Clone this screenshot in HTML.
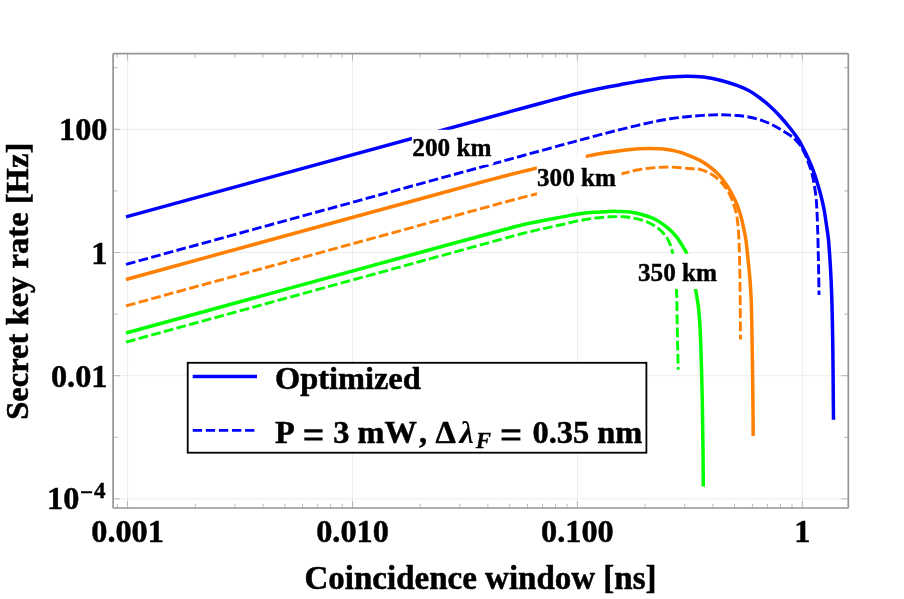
<!DOCTYPE html>
<html><head><meta charset="utf-8"><title>Secret key rate vs coincidence window</title>
<style>html,body{margin:0;padding:0;background:#fff}body{width:904px;height:599px;overflow:hidden}</style></head>
<body>
<svg width="904" height="599" viewBox="0 0 904 599" style="display:block;will-change:transform;opacity:0.999;font-family:'Liberation Serif',serif;font-weight:bold">
<rect width="904" height="599" fill="#fff"/>
<path d="M127.60 53.6 V508.0 M352.50 53.6 V508.0 M577.40 53.6 V508.0 M802.30 53.6 V508.0 M113.1 129.30 H848.3 M113.1 252.50 H848.3 M113.1 375.70 H848.3 M113.1 498.90 H848.3" stroke="#000" stroke-opacity="0.075" stroke-width="1" fill="none"/>
<g fill="none" stroke-linecap="butt" stroke-linejoin="round">
<path d="M126.00 342.04 L420.00 261.51 C425.00 260.14 436.67 256.95 450.00 253.29 C463.33 249.64 487.50 243.00 500.00 239.60 C512.50 236.20 517.50 234.78 525.00 232.90 C532.50 231.02 539.17 229.62 545.00 228.30 C550.83 226.98 554.72 226.18 560.00 225.00 C565.28 223.82 571.13 222.32 576.70 221.20 C582.27 220.08 587.83 219.03 593.40 218.30 C598.97 217.57 605.08 217.05 610.10 216.80 C615.12 216.55 619.32 216.53 623.50 216.80 C627.68 217.07 631.30 217.57 635.20 218.40 C639.10 219.23 643.28 220.30 646.90 221.80 C650.52 223.30 653.85 225.15 656.90 227.40 C659.95 229.65 662.98 232.45 665.20 235.30 C667.42 238.15 668.95 241.47 670.20 244.50 C671.45 247.53 671.93 249.58 672.70 253.50 C673.47 257.42 674.17 262.04 674.80 268.00 C675.43 273.96 676.05 277.33 676.50 289.25 C676.95 301.17 677.22 326.09 677.50 339.50 C677.78 352.91 678.08 364.67 678.20 369.70" stroke="#00ff00" stroke-width="2.9" stroke-dasharray="9.700 3.397"/>
<path d="M126.00 333.04 L420.00 252.51 C425.00 251.14 436.67 247.92 450.00 244.29 C463.33 240.67 487.50 234.08 500.00 230.75 C512.50 227.42 517.50 226.06 525.00 224.30 C532.50 222.54 539.17 221.35 545.00 220.20 C550.83 219.05 554.72 218.38 560.00 217.40 C565.28 216.42 571.13 215.15 576.70 214.30 C582.27 213.45 587.83 212.78 593.40 212.30 C598.97 211.82 605.92 211.55 610.10 211.40 C614.28 211.25 615.15 211.28 618.50 211.40 C621.85 211.52 626.03 211.50 630.20 212.10 C634.37 212.70 639.05 213.65 643.50 215.00 C647.95 216.35 652.72 217.93 656.90 220.20 C661.08 222.47 665.27 225.75 668.60 228.60 C671.93 231.45 674.40 234.10 676.90 237.30 C679.40 240.50 681.98 245.10 683.60 247.80 C685.22 250.50 685.37 250.13 686.60 253.50 C687.83 256.87 689.52 262.04 691.00 268.00 C692.48 273.96 694.21 282.25 695.50 289.25 C696.79 296.25 697.90 301.62 698.75 310.00 C699.60 318.38 700.02 325.00 700.60 339.50 C701.18 354.00 701.80 378.58 702.20 397.00 C702.60 415.42 702.82 435.10 703.00 450.00 C703.18 464.90 703.25 480.33 703.30 486.40" stroke="#00ff00" stroke-width="3.5"/>
<path d="M126.00 305.84 L470.00 211.62 C475.00 210.25 489.00 206.34 500.00 203.40 C511.00 200.46 526.00 196.60 536.00 194.00 C546.00 191.40 549.33 190.38 560.00 187.80 C570.67 185.22 589.57 180.88 600.00 178.50 C610.43 176.12 616.18 174.95 622.60 173.50 C629.02 172.05 633.07 170.78 638.50 169.80 C643.93 168.82 649.63 168.05 655.20 167.60 C660.77 167.15 666.33 166.95 671.90 167.10 C677.47 167.25 683.92 168.13 688.60 168.50 C693.28 168.87 696.43 168.47 700.00 169.30 C703.57 170.13 707.08 171.95 710.00 173.50 C712.92 175.05 715.17 176.60 717.50 178.60 C719.83 180.60 722.00 182.93 724.00 185.50 C726.00 188.07 727.92 190.92 729.50 194.00 C731.08 197.08 732.32 200.50 733.50 204.00 C734.68 207.50 735.82 211.00 736.60 215.00 C737.38 219.00 737.78 223.25 738.20 228.00 C738.62 232.75 738.87 237.83 739.10 243.50 C739.33 249.17 739.43 254.25 739.60 262.00 C739.77 269.75 739.95 277.08 740.10 290.00 C740.25 302.92 740.43 331.25 740.50 339.50" stroke="#ff7f00" stroke-width="2.9" stroke-dasharray="9.700 3.411"/>
<clipPath id="co"><path d="M0 0H536.9V599H0Z M585.7 0H904V599H585.7Z"/></clipPath>
<path d="M126.00 279.44 L450.00 190.69 C455.00 189.33 471.67 184.73 480.00 182.48 C488.33 180.23 493.33 178.93 500.00 177.20 C506.67 175.47 513.92 173.62 520.00 172.10 C526.08 170.58 529.33 169.85 536.50 168.10 C543.67 166.35 554.70 163.55 563.00 161.60 C571.30 159.65 579.30 157.87 586.30 156.40 C593.30 154.93 599.08 153.80 605.00 152.80 C610.92 151.80 616.22 151.07 621.80 150.40 C627.38 149.73 633.77 149.13 638.50 148.80 C643.23 148.47 646.03 148.37 650.20 148.40 C654.37 148.43 659.05 148.50 663.50 149.00 C667.95 149.50 672.72 150.35 676.90 151.40 C681.08 152.45 684.75 153.80 688.60 155.30 C692.45 156.80 696.43 158.45 700.00 160.40 C703.57 162.35 706.93 164.67 710.00 167.00 C713.07 169.33 715.88 171.78 718.40 174.40 C720.92 177.02 723.02 179.77 725.10 182.70 C727.18 185.63 729.10 188.78 730.90 192.00 C732.70 195.22 734.37 198.40 735.90 202.00 C737.43 205.60 738.85 209.47 740.10 213.60 C741.35 217.73 742.43 222.38 743.40 226.80 C744.37 231.22 745.12 234.60 745.90 240.10 C746.68 245.60 747.42 253.15 748.10 259.80 C748.78 266.45 749.48 273.30 750.00 280.00 C750.52 286.70 750.90 292.50 751.20 300.00 C751.50 307.50 751.60 315.00 751.80 325.00 C752.00 335.00 752.22 347.50 752.40 360.00 C752.58 372.50 752.77 387.33 752.90 400.00 C753.03 412.67 753.15 430.00 753.20 436.00" stroke="#ff7f00" stroke-width="3.5" clip-path="url(#co)"/>
<path d="M126.00 264.34 L530.00 153.68 C535.00 152.31 551.38 147.80 560.00 145.47 C568.62 143.13 574.20 141.66 581.70 139.65 C589.20 137.64 598.62 135.08 605.00 133.40 C611.38 131.72 614.72 130.90 620.00 129.60 C625.28 128.30 631.13 126.90 636.70 125.60 C642.27 124.30 647.83 122.93 653.40 121.80 C658.97 120.67 664.53 119.65 670.10 118.80 C675.67 117.95 681.23 117.27 686.80 116.70 C692.37 116.13 697.93 115.72 703.50 115.40 C709.07 115.08 714.63 114.78 720.20 114.80 C725.77 114.82 731.93 115.10 736.90 115.50 C741.87 115.90 746.15 116.48 750.00 117.20 C753.85 117.92 756.67 118.72 760.00 119.80 C763.33 120.88 766.67 122.15 770.00 123.70 C773.33 125.25 776.67 127.17 780.00 129.10 C783.33 131.03 787.48 133.58 790.00 135.30 C792.52 137.02 793.43 137.78 795.10 139.40 C796.77 141.02 798.43 142.73 800.00 145.00 C801.57 147.27 803.08 150.00 804.50 153.00 C805.92 156.00 807.23 159.47 808.50 163.00 C809.77 166.53 811.10 170.33 812.10 174.20 C813.10 178.07 813.83 182.20 814.50 186.20 C815.17 190.20 815.70 194.27 816.10 198.20 C816.50 202.13 816.65 204.92 816.90 209.80 C817.15 214.68 817.38 220.38 817.60 227.50 C817.83 234.62 818.06 244.17 818.25 252.50 C818.44 260.83 818.62 270.42 818.75 277.50 C818.88 284.58 818.96 292.08 819.00 295.00" stroke="#0000ff" stroke-width="2.9" stroke-dasharray="9.700 3.379"/>
<path d="M126.00 216.84 L510.00 111.66 C515.00 110.29 532.50 105.49 540.00 103.44 C547.50 101.40 548.75 101.05 555.00 99.40 C561.25 97.75 570.00 95.37 577.50 93.55 C585.00 91.73 592.92 89.97 600.00 88.50 C607.08 87.03 613.88 85.85 620.00 84.70 C626.12 83.55 631.13 82.57 636.70 81.60 C642.27 80.63 647.83 79.65 653.40 78.90 C658.97 78.15 664.53 77.56 670.10 77.10 C675.67 76.64 681.23 76.17 686.80 76.15 C692.37 76.13 697.93 76.33 703.50 77.00 C709.07 77.67 714.63 78.80 720.20 80.20 C725.77 81.60 731.93 83.57 736.90 85.40 C741.87 87.23 746.15 89.10 750.00 91.20 C753.85 93.30 756.67 95.50 760.00 98.00 C763.33 100.50 766.67 103.17 770.00 106.20 C773.33 109.23 776.67 112.57 780.00 116.20 C783.33 119.83 786.98 124.20 790.00 128.00 C793.02 131.80 795.92 135.65 798.10 139.00 C800.28 142.35 801.43 144.92 803.10 148.10 C804.77 151.28 806.43 154.43 808.10 158.10 C809.77 161.77 811.60 166.08 813.10 170.10 C814.60 174.12 815.77 177.85 817.10 182.20 C818.43 186.55 819.93 191.60 821.10 196.20 C822.27 200.80 823.13 204.50 824.10 209.80 C825.07 215.10 826.17 222.97 826.90 228.00 C827.63 233.03 827.98 234.67 828.50 240.00 C829.02 245.33 829.57 253.33 830.00 260.00 C830.43 266.67 830.77 272.50 831.10 280.00 C831.43 287.50 831.73 295.00 832.00 305.00 C832.27 315.00 832.53 330.00 832.70 340.00 C832.87 350.00 832.90 355.00 833.00 365.00 C833.10 375.00 833.22 390.87 833.30 400.00 C833.38 409.13 833.47 416.50 833.50 419.80" stroke="#0000ff" stroke-width="3.5"/>
</g>
<rect x="411.9" y="129.8" width="81.60000000000002" height="34.79999999999998" fill="#fff"/>
<text x="412.3" y="156.3" font-size="25.2" stroke="#000" stroke-width="0.4">200 km</text>
<rect x="536.9" y="157.9" width="84.70000000000005" height="37.599999999999994" fill="#fff"/>
<text x="537.0" y="186.0" font-size="25.2" stroke="#000" stroke-width="0.4">300 km</text>
<rect x="636.5" y="253.8" width="82.5" height="35.19999999999999" fill="#fff"/>
<text x="638.0" y="280.9" font-size="25.2" stroke="#000" stroke-width="0.4">350 km</text>
<path d="M117.31 508.0 v-4.2 M117.31 53.6 v4.2 M127.60 508.0 v-7.0 M127.60 53.6 v7.0 M195.30 508.0 v-4.2 M195.30 53.6 v4.2 M234.90 508.0 v-4.2 M234.90 53.6 v4.2 M263.00 508.0 v-4.2 M263.00 53.6 v4.2 M284.80 508.0 v-4.2 M284.80 53.6 v4.2 M302.61 508.0 v-4.2 M302.61 53.6 v4.2 M317.66 508.0 v-4.2 M317.66 53.6 v4.2 M330.70 508.0 v-4.2 M330.70 53.6 v4.2 M342.21 508.0 v-4.2 M342.21 53.6 v4.2 M352.50 508.0 v-7.0 M352.50 53.6 v7.0 M420.20 508.0 v-4.2 M420.20 53.6 v4.2 M459.80 508.0 v-4.2 M459.80 53.6 v4.2 M487.90 508.0 v-4.2 M487.90 53.6 v4.2 M509.70 508.0 v-4.2 M509.70 53.6 v4.2 M527.51 508.0 v-4.2 M527.51 53.6 v4.2 M542.56 508.0 v-4.2 M542.56 53.6 v4.2 M555.60 508.0 v-4.2 M555.60 53.6 v4.2 M567.11 508.0 v-4.2 M567.11 53.6 v4.2 M577.40 508.0 v-7.0 M577.40 53.6 v7.0 M645.10 508.0 v-4.2 M645.10 53.6 v4.2 M684.70 508.0 v-4.2 M684.70 53.6 v4.2 M712.80 508.0 v-4.2 M712.80 53.6 v4.2 M734.60 508.0 v-4.2 M734.60 53.6 v4.2 M752.41 508.0 v-4.2 M752.41 53.6 v4.2 M767.46 508.0 v-4.2 M767.46 53.6 v4.2 M780.50 508.0 v-4.2 M780.50 53.6 v4.2 M792.01 508.0 v-4.2 M792.01 53.6 v4.2 M802.30 508.0 v-7.0 M802.30 53.6 v7.0 M113.1 498.90 h7.0 M848.3 498.90 h-7.0 M113.1 437.30 h4.2 M848.3 437.30 h-4.2 M113.1 375.70 h7.0 M848.3 375.70 h-7.0 M113.1 314.10 h4.2 M848.3 314.10 h-4.2 M113.1 252.50 h7.0 M848.3 252.50 h-7.0 M113.1 190.90 h4.2 M848.3 190.90 h-4.2 M113.1 129.30 h7.0 M848.3 129.30 h-7.0 M113.1 67.70 h4.2 M848.3 67.70 h-4.2" stroke="#9c9c9c" stroke-width="0.7" fill="none"/>
<rect x="113.1" y="53.6" width="735.1999999999999" height="454.4" rx="0.8" fill="none" stroke="#959595" stroke-width="1.7"/>
<rect x="187.7" y="362.8" width="458.7" height="89.9" fill="#fff" stroke="#000" stroke-width="1.8"/>
<path d="M192.7 376.5 H257" stroke="#0000ff" stroke-width="3.6"/>
<path d="M192.7 430.4 H254.5" stroke="#0000ff" stroke-width="2.9" stroke-dasharray="9.3 3.8"/>
<g font-size="32.4" fill="#000" stroke="#000" stroke-width="0.5">
<text x="275.0" y="389.3">Optimized</text>
<text x="275.1" y="442.8">P</text>
<path d="M304.3 429.3h18.3v3.2h-18.3z M304.3 437.4h18.3v3.2h-18.3z M501.6 429.3h18.8v3.2h-18.8z M501.6 437.4h18.8v3.2h-18.8z" stroke="none"/>
<text x="333.3" y="442.8">3 mW</text>
<text x="419.0" y="442.8">,</text>
<text x="435.6" y="442.8">Δ</text>
<text x="459.5" y="442.8" font-style="italic" stroke-width="0">λ</text>
<text x="475.8" y="447.7" font-style="italic" font-size="23" stroke-width="0.3">F</text>
<text x="532.5" y="442.8">0.35 nm</text>
<text x="127.60" y="542.3" text-anchor="middle" font-size="32.3">0.001</text>
<text x="352.50" y="542.3" text-anchor="middle" font-size="32.3">0.010</text>
<text x="577.40" y="542.3" text-anchor="middle" font-size="32.3">0.100</text>
<text x="802.30" y="542.3" text-anchor="middle" font-size="32.3">1</text>
<text x="107.5" y="140.30" text-anchor="end" font-size="32.3">100</text>
<text x="107.5" y="263.50" text-anchor="end" font-size="32.3">1</text>
<text x="107.5" y="386.70" text-anchor="end" font-size="32.3">0.01</text>
<text x="47.0" y="509.4" font-size="32.3">10</text>
<text x="80.0" y="500.0" font-size="23" stroke-width="0.4">−</text>
<text x="94.0" y="498.0" font-size="23" stroke-width="0.4">4</text>
<text x="480.5" y="589.2" text-anchor="middle" font-size="33">Coincidence window [ns]</text>
<text transform="translate(28.2 281.3) rotate(-90)" text-anchor="middle" font-size="32.6">Secret key rate [Hz]</text>
</g>
</svg>
</body></html>
